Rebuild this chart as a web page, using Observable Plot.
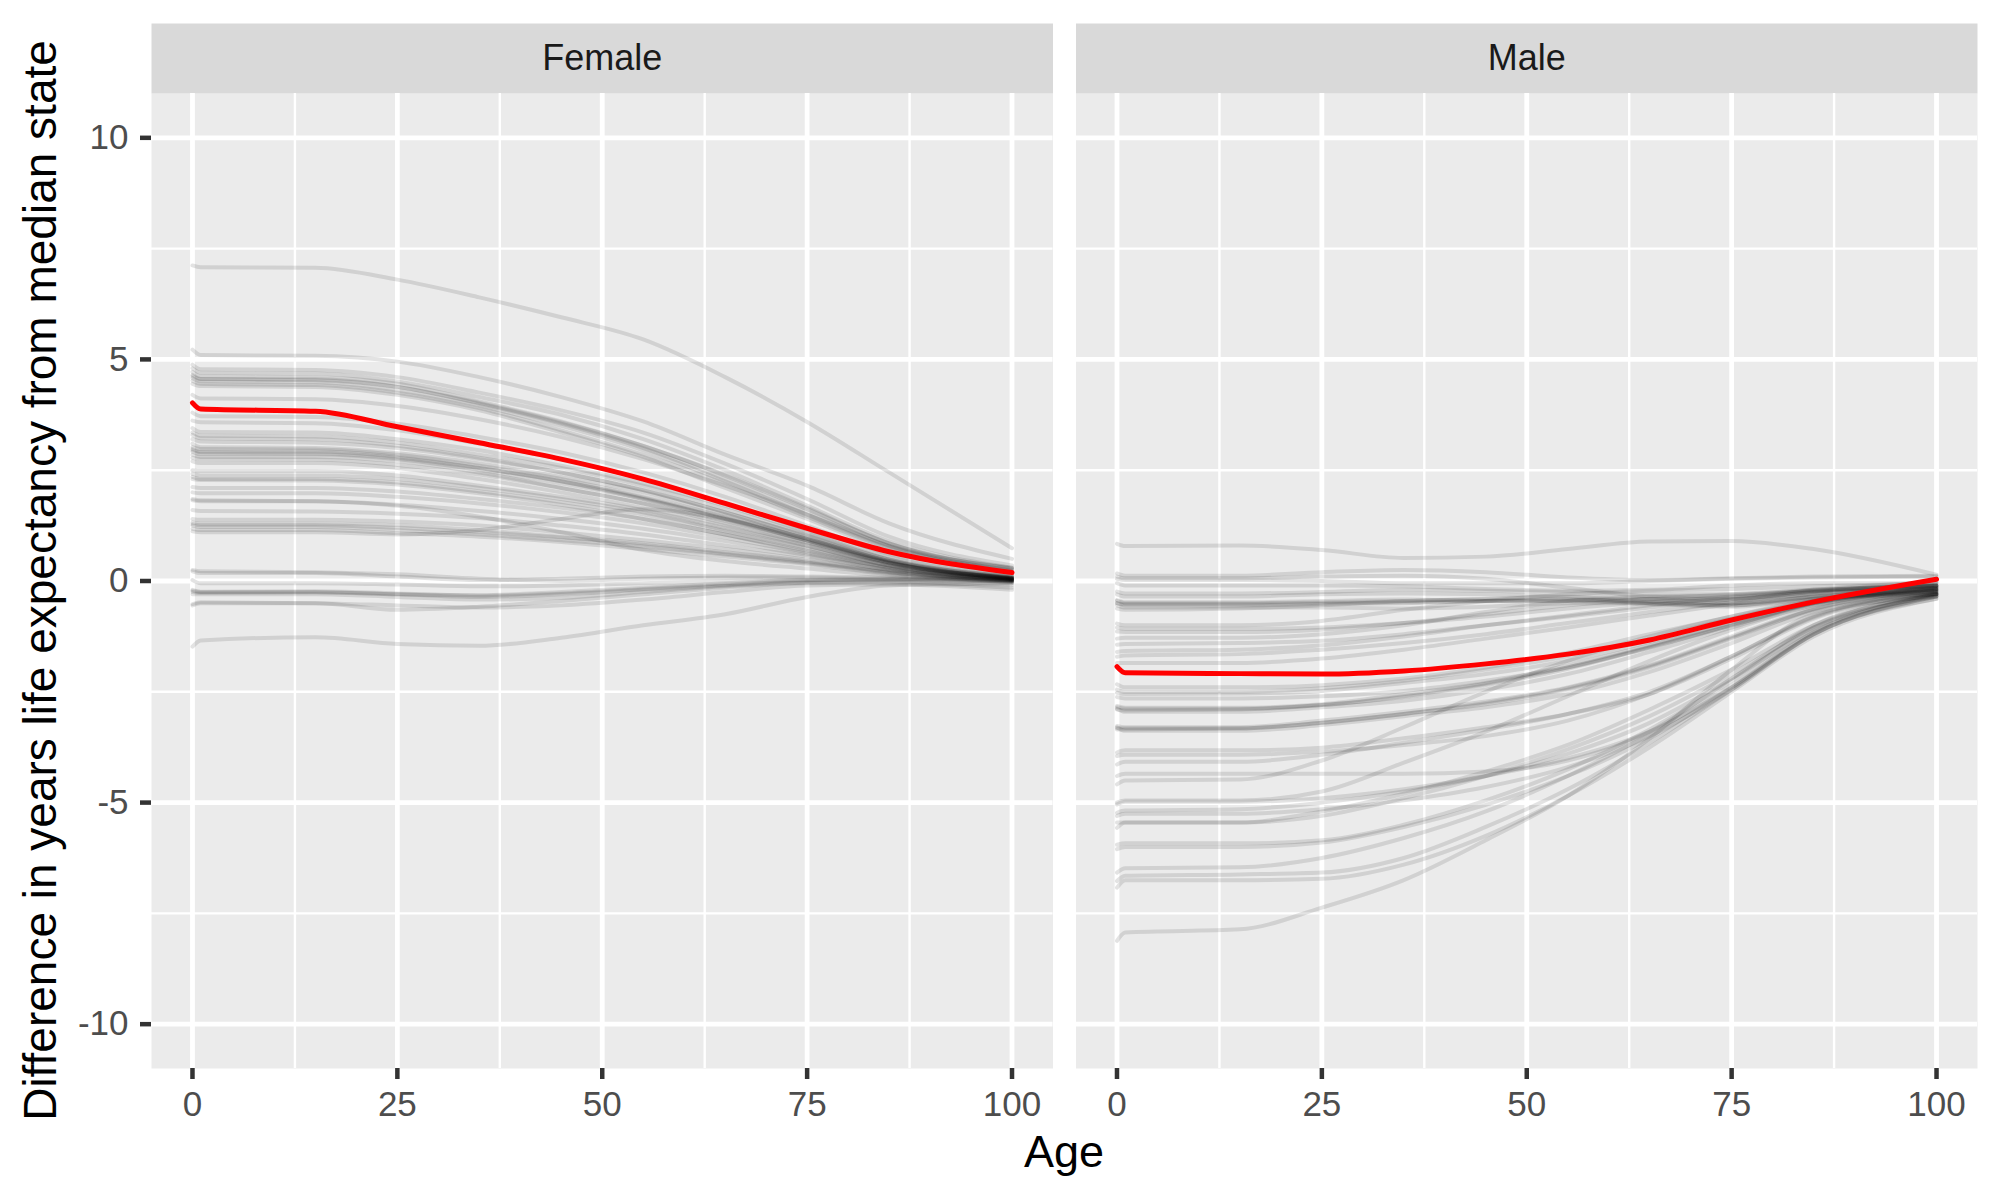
<!DOCTYPE html>
<html>
<head>
<meta charset="utf-8">
<script src="https://cdn.jsdelivr.net/npm/d3@7"></script>
<script src="https://cdn.jsdelivr.net/npm/@observablehq/plot@0.6"></script>
<style>
  html, body { margin: 0; padding: 0; background: #ffffff; overflow: hidden; }
  #chart svg { display: block; }
</style>
</head>
<body>
<div id="chart"></div>
<script>
// ---------- data ----------
const panels = ["Female", "Male"];
const ages = [0, 1, 15, 25, 35, 45, 55, 65, 75, 85, 100];

// Difference in years of life expectancy from the median state, one row per state, values at `ages`
const femaleStates = [
  [7.12, 7.08, 7.07, 6.80, 6.40, 5.95, 5.45, 4.60, 3.59, 2.45, 0.74],
  [5.22, 5.10, 5.08, 4.95, 4.60, 4.15, 3.60, 2.85, 2.15, 1.30, 0.50],
  [4.88, 4.78, 4.76, 4.60, 4.25, 3.85, 3.35, 2.65, 1.85, 1.00, 0.35],
  [4.80, 4.70, 4.68, 4.50, 4.15, 3.75, 3.20, 2.50, 1.70, 0.90, 0.30],
  [4.72, 4.62, 4.60, 4.45, 4.05, 3.60, 3.05, 2.40, 1.65, 0.85, 0.28],
  [4.65, 4.56, 4.55, 4.38, 4.00, 3.55, 3.00, 2.30, 1.55, 0.80, 0.22],
  [4.58, 4.50, 4.48, 4.30, 3.95, 3.50, 2.95, 2.25, 1.50, 0.78, 0.25],
  [4.52, 4.45, 4.42, 4.25, 3.90, 3.40, 2.85, 2.20, 1.45, 0.75, 0.20],
  [4.45, 4.40, 4.38, 4.20, 3.85, 3.35, 2.80, 2.10, 1.40, 0.70, 0.18],
  [4.20, 4.12, 4.10, 3.95, 3.65, 3.25, 2.75, 2.15, 1.50, 0.80, 0.30],
  [3.80, 3.72, 3.70, 3.55, 3.25, 2.90, 2.45, 1.90, 1.25, 0.60, 0.12],
  [3.62, 3.58, 3.56, 3.40, 3.10, 2.75, 2.30, 1.75, 1.15, 0.55, 0.10],
  [3.45, 3.36, 3.35, 3.20, 2.95, 2.60, 2.20, 1.70, 1.10, 0.50, 0.08],
  [3.35, 3.28, 3.26, 3.12, 2.85, 2.55, 2.15, 1.62, 1.05, 0.48, 0.06],
  [3.20, 3.15, 3.12, 3.00, 2.75, 2.45, 2.05, 1.55, 1.00, 0.45, 0.05],
  [3.10, 3.02, 3.00, 2.88, 2.65, 2.35, 2.00, 1.50, 0.95, 0.42, 0.08],
  [3.02, 2.98, 2.97, 2.85, 2.60, 2.30, 1.90, 1.45, 0.95, 0.45, 0.10],
  [2.98, 2.92, 2.92, 2.80, 2.55, 2.25, 1.85, 1.40, 0.90, 0.40, 0.05],
  [2.92, 2.86, 2.86, 2.75, 2.50, 2.20, 1.85, 1.40, 0.92, 0.42, 0.07],
  [2.85, 2.80, 2.80, 2.70, 2.45, 2.10, 1.75, 1.30, 0.85, 0.40, 0.04],
  [2.78, 2.75, 2.74, 2.62, 2.40, 2.10, 1.75, 1.35, 0.88, 0.40, 0.06],
  [2.70, 2.66, 2.66, 2.55, 2.30, 2.00, 1.65, 1.25, 0.80, 0.35, 0.03],
  [2.50, 2.48, 2.48, 2.38, 2.15, 1.90, 1.60, 1.20, 0.80, 0.35, 0.05],
  [2.42, 2.38, 2.38, 2.30, 2.10, 1.85, 1.55, 1.15, 0.75, 0.35, 0.08],
  [2.35, 2.30, 2.30, 2.22, 2.02, 1.78, 1.50, 1.12, 0.72, 0.32, 0.04],
  [2.30, 2.28, 2.27, 2.18, 1.98, 1.72, 1.40, 1.05, 0.65, 0.30, 0.02],
  [2.12, 2.10, 2.10, 2.02, 1.85, 1.65, 1.40, 1.05, 0.68, 0.30, 0.05],
  [2.00, 1.98, 1.98, 1.90, 1.75, 1.55, 1.30, 0.98, 0.62, 0.28, 0.03],
  [1.82, 1.80, 1.80, 1.72, 1.58, 1.40, 1.18, 0.90, 0.58, 0.25, 0.02],
  [1.60, 1.58, 1.57, 1.52, 1.42, 1.25, 1.05, 0.80, 0.55, 0.25, 0.02],
  [1.40, 1.38, 1.38, 1.34, 1.25, 1.10, 0.92, 0.72, 0.48, 0.22, 0.01],
  [1.32, 1.30, 1.30, 1.26, 1.15, 1.00, 0.85, 0.65, 0.45, 0.20, 0.00],
  [1.25, 1.22, 1.22, 1.15, 1.05, 0.92, 0.78, 0.60, 0.40, 0.18, -0.02],
  [1.18, 1.15, 1.15, 1.08, 1.00, 0.88, 0.72, 0.55, 0.38, 0.15, 0.00],
  [1.12, 1.10, 1.10, 1.05, 1.15, 1.40, 1.62, 1.40, 0.95, 0.45, 0.05],
  [1.85, 1.82, 1.80, 1.70, 1.45, 1.10, 0.70, 0.45, 0.28, 0.12, -0.02],
  [0.22, 0.18, 0.18, 0.10, 0.02, 0.05, 0.10, 0.12, 0.10, 0.08, 0.05],
  [0.25, 0.22, 0.20, 0.15, 0.05, 0.00, 0.05, 0.08, 0.08, 0.05, 0.02],
  [0.02, -0.05, -0.05, -0.08, -0.12, -0.10, -0.05, 0.00, 0.03, 0.05, 0.00],
  [-0.20, -0.24, -0.23, -0.28, -0.33, -0.28, -0.18, -0.08, 0.00, 0.02, -0.02],
  [-0.25, -0.27, -0.26, -0.30, -0.36, -0.30, -0.20, -0.10, -0.02, 0.00, -0.05],
  [-0.30, -0.30, -0.30, -0.36, -0.42, -0.38, -0.25, -0.12, -0.04, -0.02, -0.10],
  [-0.55, -0.50, -0.50, -0.65, -0.58, -0.45, -0.30, -0.15, -0.05, -0.05, -0.15],
  [-0.52, -0.48, -0.50, -0.55, -0.60, -0.55, -0.42, -0.25, -0.10, -0.08, -0.20],
  [-1.48, -1.34, -1.27, -1.42, -1.46, -1.28, -1.00, -0.75, -0.36, -0.10, -0.05],
  [4.62, 4.55, 4.53, 4.38, 4.02, 3.58, 3.05, 2.38, 1.62, 0.85, 0.27],
  [2.95, 2.90, 2.88, 2.78, 2.55, 2.25, 1.88, 1.42, 0.92, 0.42, 0.06],
  [3.30, 3.22, 3.20, 3.05, 2.78, 2.45, 2.05, 1.55, 1.02, 0.48, 0.10],
  [1.28, 1.26, 1.26, 1.20, 1.10, 0.98, 0.82, 0.62, 0.42, 0.20, 0.02],
  [-0.22, -0.25, -0.25, -0.30, -0.32, -0.25, -0.15, -0.05, 0.02, 0.03, 0.00]
];

const maleStates = [
  [0.84, 0.79, 0.80, 0.70, 0.52, 0.55, 0.72, 0.89, 0.90, 0.72, 0.14],
  [0.17, 0.12, 0.12, 0.20, 0.25, 0.20, 0.08, 0.02, 0.06, 0.10, 0.12],
  [0.10, 0.06, 0.06, 0.10, 0.12, 0.05, -0.15, -0.35, -0.40, -0.20, -0.02],
  [0.05, 0.02, 0.02, 0.00, -0.05, -0.05, -0.05, 0.00, 0.05, 0.08, 0.10],
  [-0.24, -0.28, -0.28, -0.25, -0.20, -0.22, -0.25, -0.30, -0.30, -0.20, -0.10],
  [-0.30, -0.35, -0.35, -0.30, -0.28, -0.30, -0.35, -0.45, -0.42, -0.25, -0.12],
  [-0.43, -0.48, -0.48, -0.45, -0.42, -0.45, -0.45, -0.40, -0.40, -0.30, -0.15],
  [-0.50, -0.55, -0.55, -0.52, -0.50, -0.45, -0.42, -0.50, -0.55, -0.35, -0.20],
  [-0.62, -0.65, -0.62, -0.55, -0.45, -0.40, -0.35, -0.40, -0.50, -0.38, -0.25],
  [-0.55, -0.60, -0.60, -0.60, -0.62, -0.58, -0.50, -0.50, -0.55, -0.40, -0.30],
  [-0.96, -1.00, -1.00, -0.90, -0.65, -0.45, -0.30, -0.22, -0.18, -0.12, -0.05],
  [-1.14, -1.15, -1.15, -1.10, -0.95, -0.75, -0.55, -0.40, -0.30, -0.20, -0.10],
  [-1.44, -1.42, -1.40, -1.35, -1.20, -1.00, -0.80, -0.60, -0.42, -0.25, -0.12],
  [-1.60, -1.58, -1.55, -1.45, -1.25, -1.00, -0.78, -0.55, -0.38, -0.22, -0.08],
  [-1.71, -1.68, -1.65, -1.55, -1.40, -1.20, -0.95, -0.70, -0.48, -0.28, -0.15],
  [-1.30, -1.28, -1.28, -1.20, -1.00, -0.70, -0.45, -0.35, -0.32, -0.22, -0.12],
  [-2.33, -2.40, -2.40, -2.35, -2.20, -1.95, -1.62, -1.20, -0.80, -0.40, -0.10],
  [-2.45, -2.50, -2.50, -2.42, -2.25, -2.00, -1.70, -1.30, -0.85, -0.45, -0.15],
  [-2.52, -2.55, -2.54, -2.48, -2.30, -2.10, -1.80, -1.38, -0.90, -0.48, -0.18],
  [-2.82, -2.86, -2.86, -2.78, -2.55, -2.30, -1.90, -1.45, -0.95, -0.50, -0.20],
  [-2.90, -2.92, -2.90, -2.80, -2.62, -2.35, -1.98, -1.50, -1.00, -0.52, -0.22],
  [-2.88, -2.95, -2.95, -2.85, -2.70, -2.45, -2.10, -1.60, -1.05, -0.55, -0.25],
  [-3.27, -3.30, -3.30, -3.15, -2.95, -2.72, -2.40, -1.90, -1.25, -0.62, -0.22],
  [-3.35, -3.35, -3.33, -3.20, -3.00, -2.78, -2.45, -1.95, -1.30, -0.65, -0.28],
  [-3.30, -3.38, -3.38, -3.25, -3.05, -2.85, -2.55, -2.05, -1.40, -0.70, -0.30],
  [-3.87, -3.82, -3.82, -3.76, -3.55, -3.30, -3.00, -2.55, -1.75, -0.85, -0.28],
  [-4.14, -4.08, -4.08, -3.92, -3.65, -3.35, -3.00, -2.50, -1.70, -0.80, -0.25],
  [-4.40, -4.35, -4.35, -4.35, -4.35, -4.30, -4.05, -3.40, -2.20, -1.00, -0.32],
  [-4.59, -4.50, -4.48, -4.05, -3.30, -2.50, -1.80, -1.25, -0.80, -0.45, -0.15],
  [-5.04, -4.98, -4.98, -4.90, -4.70, -4.40, -4.00, -3.40, -2.40, -1.20, -0.35],
  [-5.00, -4.95, -4.95, -4.75, -4.10, -3.40, -2.60, -1.80, -1.10, -0.55, -0.20],
  [-5.23, -5.18, -5.15, -5.00, -4.75, -4.40, -3.90, -3.20, -2.20, -1.10, -0.30],
  [-5.45, -5.45, -5.45, -5.20, -4.80, -4.30, -3.70, -2.90, -2.00, -1.00, -0.30],
  [-5.57, -5.45, -5.45, -5.30, -4.90, -4.40, -3.80, -3.05, -2.10, -1.05, -0.35],
  [-6.05, -6.00, -6.00, -5.90, -5.55, -5.05, -4.40, -3.55, -2.40, -1.15, -0.32],
  [-5.95, -5.92, -5.92, -5.85, -5.50, -4.95, -4.25, -3.35, -2.25, -1.05, -0.28],
  [-6.58, -6.48, -6.46, -6.25, -5.80, -5.20, -4.40, -3.45, -2.35, -1.15, -0.30],
  [-6.77, -6.65, -6.62, -6.58, -6.25, -5.55, -4.70, -3.65, -2.45, -1.20, -0.35],
  [-6.92, -6.75, -6.75, -6.72, -6.40, -5.75, -4.85, -3.75, -2.50, -1.25, -0.40],
  [-8.12, -7.93, -7.86, -7.37, -6.75, -5.85, -4.85, -3.55, -2.00, -0.75, -0.35],
  [-0.45, -0.50, -0.50, -0.48, -0.45, -0.42, -0.42, -0.48, -0.50, -0.35, -0.18],
  [-0.50, -0.52, -0.52, -0.50, -0.48, -0.45, -0.45, -0.52, -0.58, -0.40, -0.22],
  [-2.85, -2.88, -2.88, -2.80, -2.60, -2.32, -1.95, -1.48, -0.98, -0.50, -0.20],
  [-3.32, -3.32, -3.32, -3.20, -3.00, -2.75, -2.42, -1.92, -1.28, -0.64, -0.25],
  [-1.05, -1.08, -1.08, -1.05, -0.95, -0.80, -0.62, -0.48, -0.35, -0.22, -0.10],
  [-1.85, -1.85, -1.85, -1.75, -1.55, -1.30, -1.05, -0.78, -0.52, -0.30, -0.12],
  [-3.95, -3.92, -3.92, -3.85, -3.70, -3.50, -3.15, -2.55, -1.70, -0.82, -0.28],
  [-2.62, -2.65, -2.65, -2.60, -2.48, -2.25, -1.95, -1.50, -1.00, -0.50, -0.18],
  [-0.05, -0.10, -0.10, -0.10, -0.12, -0.18, -0.22, -0.20, -0.10, -0.05, -0.05],
  [-5.30, -5.25, -5.25, -5.15, -4.95, -4.65, -4.20, -3.50, -2.45, -1.20, -0.40]
];

// highlighted state (red)
const femaleHighlight = [4.02, 3.88, 3.83, 3.48, 3.12, 2.75, 2.30, 1.75, 1.19, 0.66, 0.19];
const maleHighlight = [-1.93, -2.07, -2.09, -2.10, -2.03, -1.87, -1.65, -1.33, -0.88, -0.47, 0.04];

// axes
const xTicks = [0, 25, 50, 75, 100];
const xMinor = [12.5, 37.5, 62.5, 87.5];
const yTicks = [-10, -5, 0, 5, 10];
const yMinor = [-7.5, -2.5, 2.5, 7.5];
const xTitle = "Age";
const yTitle = "Difference in years life expectancy from median state";

// ---------- tidy rows ----------
function tidy(rows, sex, prefix) {
  const out = [];
  rows.forEach((vals, i) => {
    vals.forEach((v, j) => out.push({sex, state: prefix + i, age: ages[j], value: v}));
  });
  return out;
}
const greyRows = tidy(femaleStates, "Female", "F").concat(tidy(maleStates, "Male", "M"));
const redRows = tidy([femaleHighlight], "Female", "FH").concat(tidy([maleHighlight], "Male", "MH"));

const FONT = "'Liberation Sans', Arial, Helvetica, sans-serif";
const fmt = d => String(d); // plain hyphen-minus like the original

const chart = Plot.plot({
  width: 2000,
  height: 1200,
  marginLeft: 151,
  marginRight: 23,
  marginTop: 93,
  marginBottom: 132,
  style: {fontFamily: FONT, background: "#ffffff", overflow: "visible"},
  x: {domain: [-5, 105], label: null},
  y: {domain: [-11, 11], label: null},
  fx: {domain: panels, paddingInner: 0.0249, paddingOuter: 0, round: false, axis: null, label: null},
  marks: [
    Plot.frame({fill: "#ebebeb"}),
    Plot.frame({fill: "#d9d9d9", insetTop: -70, insetBottom: 975}),
    Plot.text(panels, {fx: d => d, text: d => d, frameAnchor: "top", lineAnchor: "middle", dy: -35, fontSize: 36, fill: "#1a1a1a"}),
    Plot.gridX(xMinor, {stroke: "#ffffff", strokeOpacity: 1, strokeWidth: 2.4}),
    Plot.gridY(yMinor, {stroke: "#ffffff", strokeOpacity: 1, strokeWidth: 2.4}),
    Plot.gridX(xTicks, {stroke: "#ffffff", strokeOpacity: 1, strokeWidth: 4.8}),
    Plot.gridY(yTicks, {stroke: "#ffffff", strokeOpacity: 1, strokeWidth: 4.8}),
    Plot.line(greyRows, {x: "age", y: "value", z: "state", fx: "sex", stroke: "#000000", strokeOpacity: 0.11, strokeWidth: 4, curve: "monotone-x"}),
    Plot.line(redRows, {x: "age", y: "value", z: "state", fx: "sex", stroke: "#ff0000", strokeWidth: 5, curve: "monotone-x"}),
    Plot.axisX(xTicks, {tickSize: 11, tickPadding: 12, stroke: "#333333", strokeWidth: 4.5, fill: "#4d4d4d", fontSize: 35, tickFormat: fmt, label: null}),
    Plot.axisY(yTicks, {tickSize: 11, tickPadding: 12, stroke: "#333333", strokeWidth: 4.5, fill: "#4d4d4d", fontSize: 35, tickFormat: fmt, label: null})
  ]
});

// axis titles (spanning both panels)
const svg = d3.select(chart);
svg.append("text")
  .attr("x", (151 + 1977) / 2).attr("y", 1167)
  .attr("text-anchor", "middle")
  .attr("font-family", FONT).attr("font-size", 45).attr("fill", "#000000")
  .text(xTitle);
svg.append("text")
  .attr("transform", `translate(56, ${(93 + 1068) / 2}) rotate(-90)`)
  .attr("text-anchor", "middle")
  .attr("font-family", FONT).attr("font-size", 46).attr("fill", "#000000")
  .text(yTitle);

document.getElementById("chart").appendChild(chart);
</script>
</body>
</html>
